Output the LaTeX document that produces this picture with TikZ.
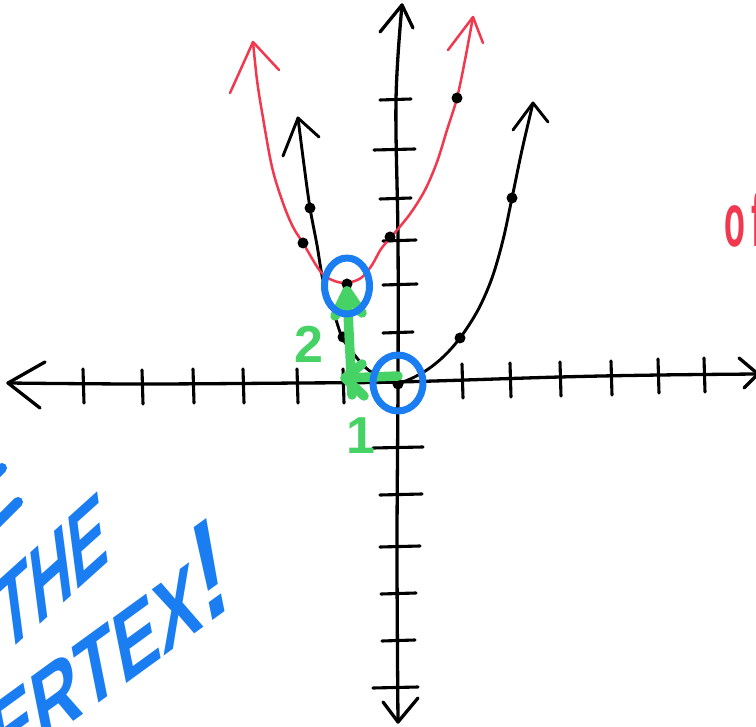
\documentclass[tikz,border=0pt]{standalone}
\usepackage{fontspec}
\setmainfont{Liberation Sans}
\usetikzlibrary{shapes.geometric}
\definecolor{penblue}{HTML}{1A7DF2}
\definecolor{pengreen}{HTML}{47D266}
\definecolor{penred}{HTML}{F2384E}
\begin{document}
\begin{tikzpicture}[x=1pt,y=-1pt, line cap=round, line join=round,
  axis/.style={line width=3.3pt, black},
  tickmark/.style={line width=3.1pt, black},
  blk/.style={line width=2.9pt, black},
  redc/.style={line width=2.5pt, penred},
  dot/.style={circle, fill=black, inner sep=0pt, minimum size=11pt},
  ring/.style={ellipse, draw=penblue, line width=7pt, inner sep=0pt},
  grn/.style={line width=9.5pt, pengreen},
  grntxt/.style={text=pengreen, font=\fontsize{52}{52}\selectfont\bfseries, inner sep=0pt},
  bluetxt/.style={text=penblue, inner sep=0pt, anchor=base west},
  redtxt/.style={text=penred, font=\fontsize{76}{76}\selectfont\bfseries, inner sep=0pt, xscale=0.45},
]
\useasboundingbox (0,0) rectangle (756,727);
\fill[white] (0,0) rectangle (756,727);
\clip (0,0) rectangle (756,727);

% ---------- axes ----------
\coordinate (xL) at (8,383);
\coordinate (xR) at (758,374);
\coordinate (xLa) at (45,362);
\coordinate (xLb) at (40,408);
\coordinate (xRa) at (739,358);
\coordinate (xRb) at (744,388);
\draw[axis] plot[smooth, tension=0.6] coordinates {(xL) (142,384) (300,383) (398,382) (560,377) (660,375) (xR)};
\draw[axis] (xLa) -- (xL) -- (xLb);
\draw[axis] (xRa) -- (xR) -- (xRb);

\coordinate (yT) at (402,5);
\coordinate (yB) at (398,722);
\coordinate (yTa) at (380,32);
\coordinate (yTb) at (413,28);
\coordinate (yBa) at (383,702);
\coordinate (yBb) at (418,698);
\draw[axis] plot[smooth, tension=0.6] coordinates {(yT) (396,100) (398,240) (398,383) (397,550) (yB)};
\draw[axis] (yTa) -- (yT) -- (yTb);
\draw[axis] (yBa) -- (yB) -- (yBb);

% x ticks
\foreach \tx/\ty in {83/386, 142/387, 193/386, 243/386, 297/386, 343/386,
                     462/381, 510/380, 560/379, 611/378, 658/376, 704/375}
  \draw[tickmark] (\tx,\ty-17) -- (\tx+1,\ty+17);
% y ticks
\foreach \ty/\xa/\xb in {100/380/411, 150/374/415, 199/380/411, 241/383/416,
                         285/383/417, 333/383/413, 448/373/423, 495/380/422,
                         547/380/420, 594/381/416, 641/382/415, 688/373/418}
  \draw[tickmark] (\xa,\ty) -- (\xb,\ty-1);

% ---------- black parabola ----------
\coordinate (bV) at (398,383);
\coordinate (bL) at (298,118);
\coordinate (bR) at (533,103);
\draw[blk] plot[smooth, tension=0.55] coordinates {(bL) (304,165) (310,208) (317,245) (323,280) (333,310) (342,337) (353,353) (366,368) (380,377) (bV) (422,373) (442,358) (460,338) (478,310) (492,278) (503,240) (512,198) (522,150) (bR)};
\coordinate (bLa) at (283,156);
\coordinate (bLb) at (319,137);
\coordinate (bRa) at (513,130);
\coordinate (bRb) at (548,122);
\draw[blk] (bLa) -- (bL) -- (bLb);
\draw[blk] (bRa) -- (bR) -- (bRb);

% ---------- red parabola ----------
\coordinate (rL) at (253,42);
\coordinate (rR) at (473,17);
\coordinate (rV) at (346,283);
\draw[redc] plot[smooth, tension=0.55] coordinates {(rL) (257,80) (262,112) (272,167) (283,203) (293,227) (303,243) (320,271) (332,280) (rV) (361,278) (372,265) (381,249) (392,236) (410,214) (425,190) (437,162) (447,130) (457,98) (465,60) (rR)};
\coordinate (rLa) at (230,93);
\coordinate (rLb) at (279,70);
\coordinate (rRa) at (448,50);
\coordinate (rRb) at (483,43);
\draw[redc] (rLa) -- (rL) -- (rLb);
\draw[redc] (rRa) -- (rR) -- (rRb);

% ---------- dots ----------
\node[dot] (d1) at (310,208) {};
\node[dot] (d2) at (303,243) {};
\node[dot] (d3) at (390,237) {};
\node[dot] (d4) at (457,98) {};
\node[dot] (d5) at (347,284) {};
\node[dot] (d6) at (343,337) {};
\node[dot] (d7) at (398,384) {};
\node[dot] (d8) at (460,338) {};
\node[dot] (d9) at (512,198) {};

% ---------- green arrows ----------
\coordinate (gS) at (398,376);
\coordinate (gC) at (345,378);
\coordinate (gT) at (347,291);
\coordinate (gCa) at (362,364);
\coordinate (gCb) at (364,396);
\coordinate (gTa) at (335,316);
\coordinate (gTb) at (362,313);
\coordinate (gB) at (352,395);
\draw[grn] (gS) -- (gC);
\draw[grn] (gCa) -- (gC) -- (gCb);
\draw[grn] (gB) -- (gT);
\draw[grn] (gTa) -- (gT) -- (gTb);
\node[grntxt] (lab2) at (309,344) {2};
\node[grntxt] (lab1) at (361,436) {1};

% ---------- blue rings ----------
\node[ring, minimum width=45pt, minimum height=56pt] (ringV) at (347,286) {};
\node[ring, minimum width=50pt, minimum height=56pt] (ringO) at (398,383) {};

% ---------- blue text ----------
\draw[penblue, line width=10pt] (-12,482) -- (2,468);
\draw[penblue, line width=10pt] (-6,526) -- (18,502);
\node[bluetxt, font=\fontsize{104}{104}\selectfont\bfseries,
      cm={0.513,0.462,-0.13,1,(0,0)}] (the) at (3.7,656.7) {THE};
\node[bluetxt, font=\fontsize{95}{95}\selectfont\bfseries,
      cm={0.647,0.470,-0.2,1,(0,0)}] (vertex) at (-42,805.5) {VERTEX{\fontsize{135}{135}\selectfont!}};

% ---------- red text ----------
\node[redtxt, anchor=base west] (of) at (724,247) {o\kern14pt f};
\end{tikzpicture}
\end{document}
